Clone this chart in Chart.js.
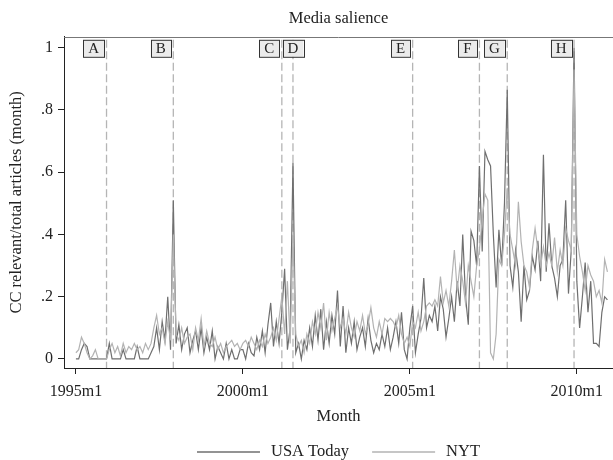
<!DOCTYPE html>
<html>
<head>
<meta charset="utf-8">
<script src="https://cdn.jsdelivr.net/npm/chart.js@4.4.1/dist/chart.umd.min.js"></script>
<style>
  html, body { margin: 0; padding: 0; background: #fff; }
</style>
</head>
<body>
<canvas id="salience" width="613" height="460"></canvas>
<script>
// monthly shares, 1995m1 .. 2010m12 (one row per year)
var usaToday = [
  0, 0, 0.03, 0.05, 0.04, 0, 0, 0, 0, 0, 0, 0,
  0.05, 0, 0, 0, 0, 0.03, 0, 0, 0, 0, 0.04, 0,
  0, 0, 0, 0.02, 0.04, 0.1, 0.03, 0.12, 0.06, 0.2, 0.03, 0.51,
  0.05, 0.11, 0.03, 0.08, 0.1, 0.02, 0.06, 0.09, 0.03, 0.1, 0.02, 0.07,
  0.03, 0.09, 0, 0.04, 0.02, 0, 0.05, 0, 0.03, 0, 0, 0.03,
  0.03, 0, 0.05, 0.02, 0.01, 0.07, 0.03, 0.09, 0.02, 0.11, 0.18, 0.04,
  0.12, 0.05, 0.15, 0.29, 0.03, 0.1, 0.63, 0.02, 0.05, 0, 0.06, 0.03,
  0.1, 0.04, 0.14, 0.06, 0.16, 0.03, 0.12, 0.05, 0.14, 0.08, 0.22, 0.04,
  0.17, 0.02, 0.1, 0.05, 0.12, 0.03, 0.07, 0.1, 0.04, 0.13, 0.06, 0.02,
  0.05, 0.03, 0.08, 0.04, 0.1, 0.03, 0.07, 0.12, 0.05, 0.15, 0.03, 0,
  0.1, 0.17, 0.02, 0.08, 0.13, 0.26, 0.1, 0.14, 0.12, 0.17, 0.09, 0.2,
  0.16, 0.07, 0.13, 0.2, 0.12, 0.25, 0.17, 0.4, 0.2, 0.11, 0.41, 0.38,
  0.3, 0.62, 0.345, 0.667, 0.64, 0.62, 0.4, 0.23, 0.415, 0.3, 0.5, 0.865,
  0.3, 0.23, 0.35, 0.28, 0.12, 0.3, 0.19, 0.22, 0.33, 0.286, 0.38, 0.25,
  0.656, 0.28, 0.436, 0.3, 0.26, 0.2, 0.3, 0.32, 0.51, 0.21, 0.35, 1.0,
  0.25, 0.1, 0.2, 0.31, 0.15, 0.25, 0.05, 0.05, 0.04, 0.15, 0.2, 0.19
];
var nyt = [
  0.02, 0.03, 0.07, 0.05, 0.02, 0, 0.01, 0.03, 0, 0, 0, 0,
  0.03, 0.05, 0.02, 0.04, 0.01, 0.05, 0.02, 0.04, 0.03, 0.05, 0.03, 0.04,
  0.02, 0.05, 0.03, 0.05, 0.1, 0.14, 0.08, 0.1, 0.05, 0.12, 0.06, 0.4,
  0.08, 0.06, 0.1, 0.05, 0.07, 0.08, 0.03, 0.1, 0.06, 0.13, 0.04, 0.09,
  0.05, 0.04, 0.07, 0.03, 0.05, 0.02, 0.04, 0.05, 0.06, 0.04, 0.05, 0.03,
  0.05, 0.06, 0.04, 0.07, 0.05, 0.03, 0.06, 0.04, 0.08, 0.05, 0.07, 0.1,
  0.06, 0.13, 0.2, 0.08, 0.25, 0.05, 0.4, 0.08, 0.04, 0.06, 0.02, 0.08,
  0.05, 0.12, 0.08, 0.15, 0.1, 0.18, 0.06, 0.15, 0.09, 0.13, 0.17, 0.1,
  0.13, 0.08, 0.15, 0.1, 0.07, 0.12, 0.09, 0.14, 0.08, 0.11, 0.165, 0.1,
  0.07, 0.12, 0.08, 0.13, 0.12, 0.13, 0.12, 0.1, 0.14, 0.08, 0.05, 0.07,
  0.04, 0.12, 0.1, 0.15, 0.09, 0.12, 0.17, 0.18, 0.17, 0.19, 0.17, 0.265,
  0.18, 0.22, 0.17, 0.25, 0.35, 0.22, 0.3, 0.25, 0.18, 0.3, 0.25, 0.2,
  0.3, 0.35, 0.45, 0.53, 0.51, 0.02, 0, 0.08, 0.32, 0.3, 0.4, 0.55,
  0.4, 0.35, 0.3, 0.505, 0.377, 0.3, 0.28, 0.23, 0.35, 0.42, 0.35, 0.3,
  0.36, 0.3, 0.34, 0.3, 0.39, 0.28, 0.35, 0.3, 0.42, 0.38, 0.35, 0.93,
  0.4, 0.33, 0.28, 0.22, 0.3, 0.27, 0.25, 0.2, 0.22, 0.18, 0.32, 0.28
];

// events (month index from 1995m1) and their letters
var eventMonths = [11, 35, 74, 78, 121, 145, 155, 179];
var eventLabels = ['A', 'B', 'C', 'D', 'E', 'F', 'G', 'H'];

var tickMonths = [0, 60, 120, 180];
var tickLabels = ['1995m1', '2000m1', '2005m1', '2010m1'];
var yTicks = [0, 0.2, 0.4, 0.6, 0.8, 1];
var yTickLabels = ['0', '.2', '.4', '.6', '.8', '1'];

function toPoints(arr) {
  return arr.map(function (v, i) { return { x: i, y: v }; });
}

Chart.defaults.font.family = "'Liberation Serif', 'DejaVu Serif', serif";
Chart.defaults.color = '#222';

var markers = {
  id: 'markers',
  beforeDatasetsDraw: function (chart) {
    var ctx = chart.ctx, area = chart.chartArea, x = chart.scales.x;
    ctx.save();
    ctx.strokeStyle = '#b5b5b5';
    ctx.lineWidth = 1.3;
    ctx.setLineDash([8, 3.5]);
    eventMonths.forEach(function (m) {
      var px = x.getPixelForValue(m);
      ctx.beginPath();
      ctx.moveTo(px, area.top + 3);
      ctx.lineTo(px, area.bottom);
      ctx.stroke();
    });
    ctx.restore();
  },
  afterDatasetsDraw: function (chart) {
    var ctx = chart.ctx, area = chart.chartArea, x = chart.scales.x;
    ctx.save();
    ctx.font = "15px 'Liberation Serif', serif";
    ctx.textAlign = 'center';
    ctx.textBaseline = 'middle';
    var prev = -Infinity;
    eventMonths.forEach(function (m, i) {
      var px = x.getPixelForValue(m);
      var w = Math.max(19, ctx.measureText(eventLabels[i]).width + 10);
      var left = Math.max(px - 2.5 - w, prev + 0.7);
      var top = area.top + 3, h = 17;
      ctx.fillStyle = '#ebebeb';
      ctx.fillRect(left, top, w, h);
      ctx.strokeStyle = '#333';
      ctx.lineWidth = 1;
      ctx.strokeRect(Math.round(left) + 0.5, top + 0.5, Math.round(w), h);
      ctx.fillStyle = '#222';
      ctx.fillText(eventLabels[i], left + w / 2, top + h / 2 + 1);
      prev = px;
    });

    // top frame line
    ctx.strokeStyle = '#777';
    ctx.beginPath();
    ctx.moveTo(area.left, Math.round(area.top) + 0.5);
    ctx.lineTo(area.right, Math.round(area.top) + 0.5);
    ctx.stroke();

    // legend row under the axis title
    ctx.font = "16.5px 'Liberation Serif', serif";
    var items = chart.data.datasets;
    var lineLen = 63, gap = 11, itemGap = 23;
    var total = 0;
    items.forEach(function (d, i) {
      total += lineLen + gap + ctx.measureText(d.label).width + (i > 0 ? itemGap : 0);
    });
    var cx = (area.left + area.right) / 2;
    var lx = cx - total / 2, ly = 452;
    ctx.textAlign = 'left';
    items.forEach(function (d) {
      ctx.strokeStyle = d.borderColor;
      ctx.lineWidth = 1.3;
      ctx.beginPath();
      ctx.moveTo(lx, ly);
      ctx.lineTo(lx + lineLen, ly);
      ctx.stroke();
      ctx.fillStyle = '#222';
      ctx.fillText(d.label, lx + lineLen + gap, ly);
      lx += lineLen + gap + ctx.measureText(d.label).width + itemGap;
    });
    ctx.restore();
  }
};

var ctx = document.getElementById('salience').getContext('2d');
var chart = new Chart(ctx, {
  type: 'line',
  data: {
    datasets: [{
      label: 'USA Today',
      data: toPoints(usaToday),
      borderColor: '#6f6f6f',
      borderWidth: 1.2,
      pointRadius: 0,
      tension: 0,
      order: 2
    }, {
      label: 'NYT',
      data: toPoints(nyt),
      borderColor: '#b3b3b3',
      borderWidth: 1.2,
      pointRadius: 0,
      tension: 0,
      order: 1
    }]
  },
  options: {
    responsive: false,
    animation: false,
    layout: { padding: 0 },
    plugins: {
      legend: { display: false },
      tooltip: { enabled: false },
      title: {
        display: true,
        text: 'Media salience',
        fullSize: false,
        color: '#222',
        font: { size: 16.5, weight: 'normal' },
        padding: { top: 9, bottom: 8 }
      }
    },
    scales: {
      x: {
        type: 'linear',
        min: -4.28,
        max: 193,
        afterBuildTicks: function (s) { s.ticks = tickMonths.map(function (v) { return { value: v }; }); },
        afterFit: function (s) { s.height = 92; },
        ticks: {
          callback: function (v) { return tickLabels[tickMonths.indexOf(v)]; },
          font: { size: 16 },
          padding: 8,
          maxRotation: 0,
          autoSkip: false
        },
        grid: { drawOnChartArea: false, tickLength: 6, color: '#222' },
        border: { color: '#222' },
        title: { display: true, text: 'Month', font: { size: 16.5 }, padding: { bottom: 33 } }
      },
      y: {
        min: -0.029,
        max: 1.035,
        afterBuildTicks: function (s) { s.ticks = yTicks.map(function (v) { return { value: v }; }); },
        afterFit: function (s) { s.width = 64; },
        ticks: {
          callback: function (v) { return yTickLabels[yTicks.indexOf(v)]; },
          font: { size: 16 },
          padding: 5
        },
        grid: { drawOnChartArea: false, tickLength: 6, color: '#222' },
        border: { color: '#222' },
        title: { display: true, text: 'CC relevant/total articles (month)', font: { size: 16.5 }, padding: { top: 7 } }
      }
    }
  },
  plugins: [markers]
});
</script>
</body>
</html>
